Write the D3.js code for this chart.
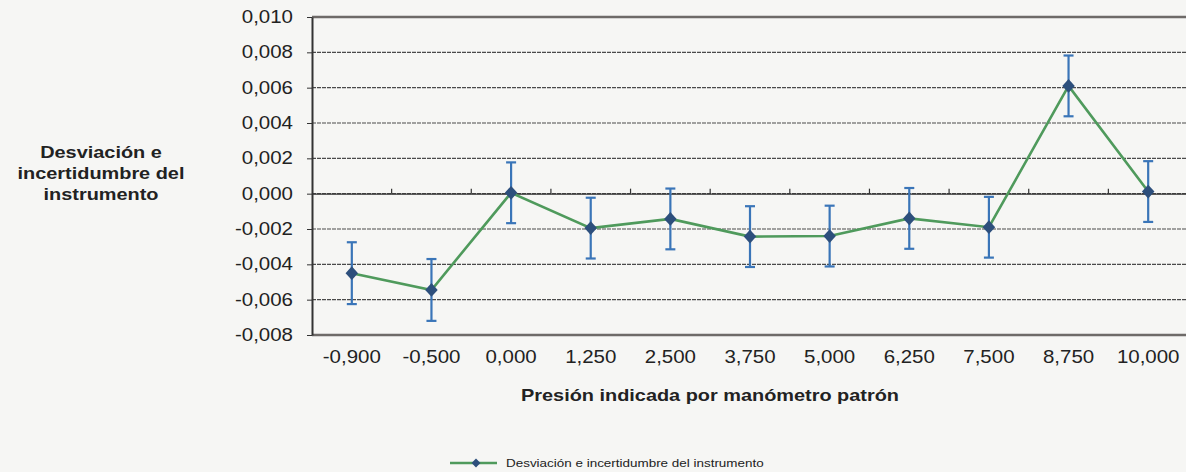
<!DOCTYPE html>
<html><head><meta charset="utf-8">
<script src="https://cdn.jsdelivr.net/npm/d3@7"></script>
<style>
html,body{margin:0;padding:0;background:#f6f6f4;}
svg{display:block;font-family:"Liberation Sans",Arial,sans-serif;}
</style></head><body>
<svg id="c" width="1186" height="472"></svg>
<script>
const categories = ["-0,900","-0,500","0,000","1,250","2,500","3,750","5,000","6,250","7,500","8,750","10,000"];
const deviation = [-0.0045,-0.00545,0.00005,-0.00195,-0.00143,-0.00243,-0.0024,-0.0014,-0.0019,0.0061,0.00012];
const uncertainty = [0.00175,0.00175,0.00172,0.00172,0.00172,0.00172,0.00172,0.00172,0.00172,0.00172,0.00172];
const yTicks = [0.010,0.008,0.006,0.004,0.002,0,-0.002,-0.004,-0.006,-0.008];
const seriesName = "Desviación e incertidumbre del instrumento";

const SX = 1.17; // horizontal stretch of the scanned text
const svg = d3.select("#c");
const L = 312, R = 1188, T = 17, B = 335;
const x = d3.scaleBand().domain(categories).range([L, R]);
const y = d3.scaleLinear().domain([-0.008, 0.010]).range([B, T]);
const fmt = v => d3.format(".3f")(v).replace("−","-").replace(".", ",");

function txt(g, px, py, s, opts) {
  const t = g.append("text")
    .attr("transform", `translate(${px},${py}) scale(${SX},1)`)
    .attr("font-size", opts.size).attr("fill", "#222")
    .attr("text-anchor", opts.anchor || "start")
    .text(s);
  if (opts.bold) t.attr("font-weight", "bold");
  if (opts.dy) t.attr("dy", opts.dy);
  return t;
}

// gridlines
svg.append("g").selectAll("line").data(yTicks.filter(v => v !== 0.010 && v !== -0.008)).join("line")
  .attr("x1", L).attr("x2", R).attr("y1", d => y(d)).attr("y2", d => y(d))
  .attr("stroke", "#4a4a4a").attr("stroke-width", 1.1).attr("stroke-dasharray", "4,1");

// top & bottom border
svg.append("line").attr("x1", L).attr("x2", R).attr("y1", y(0.010)).attr("y2", y(0.010)).attr("stroke", "#6e6a68").attr("stroke-width", 2.5);
svg.append("line").attr("x1", L).attr("x2", R).attr("y1", y(-0.008)).attr("y2", y(-0.008)).attr("stroke", "#6e6a68").attr("stroke-width", 2.5);

// y axis
const yAxis = svg.append("g").attr("transform", `translate(${L},0)`)
  .call(d3.axisLeft(y).tickValues(yTicks).tickFormat("").tickSize(5).tickSizeOuter(0));
yAxis.select(".domain").attr("stroke", "#333").attr("stroke-width", 2);
yAxis.selectAll(".tick line").attr("stroke", "#333");
const yl = svg.append("g");
yTicks.forEach(v => txt(yl, 293, y(v), fmt(v), {size: 17.5, anchor: "end", dy: "0.35em"}));

// x axis along zero line
const xAxis = svg.append("g").attr("transform", `translate(0,${y(0)})`)
  .call(d3.axisTop(x).tickSize(0).tickFormat(""));
xAxis.select(".domain").attr("stroke", "#333").attr("stroke-width", 1.3);
svg.append("g").selectAll("line").data(categories.slice(1)).join("line")
  .attr("x1", d => x(d)).attr("x2", d => x(d)).attr("y1", y(0)).attr("y2", y(0) - 5)
  .attr("stroke", "#333").attr("stroke-width", 1.2);

// x labels
const xl = svg.append("g");
categories.forEach(c => txt(xl, x(c) + x.bandwidth()/2, 363, c, {size: 17.5, anchor: "middle"}));

// titles
txt(svg, 710, 401, "Presión indicada por manómetro patrón", {size: 17, bold: true, anchor: "middle"});
["Desviación e","incertidumbre del","instrumento"].forEach((s, i) =>
  txt(svg, 101, 158 + i*21, s, {size: 17, bold: true, anchor: "middle"}));

// series line
const cx = i => x(categories[i]) + x.bandwidth()/2;
svg.append("path").datum(deviation)
  .attr("d", d3.line().x((d, i) => cx(i)).y(d => y(d)))
  .attr("fill", "none").attr("stroke", "#4f9a5c").attr("stroke-width", 2.6);

// error bars
const eb = svg.append("g").attr("stroke", "#3a75b8").attr("stroke-width", 2.2);
deviation.forEach((d, i) => {
  const t = y(d + uncertainty[i]), b = y(d - uncertainty[i]);
  eb.append("line").attr("x1", cx(i)).attr("x2", cx(i)).attr("y1", t).attr("y2", b);
  eb.append("line").attr("x1", cx(i) - 5).attr("x2", cx(i) + 5).attr("y1", t).attr("y2", t);
  eb.append("line").attr("x1", cx(i) - 5).attr("x2", cx(i) + 5).attr("y1", b).attr("y2", b);
});

// markers
const diamond = d3.symbol().type(d3.symbolDiamond2).size(100);
svg.append("g").selectAll("path").data(deviation).join("path")
  .attr("transform", (d, i) => `translate(${cx(i)},${y(d)}) scale(1,1.1)`)
  .attr("d", diamond).attr("fill", "#2d4f7c");

// legend
svg.append("line").attr("x1", 450).attr("x2", 497).attr("y1", 463).attr("y2", 463).attr("stroke", "#4f9a5c").attr("stroke-width", 2.6);
svg.append("path").attr("transform", "translate(476,463)").attr("d", d3.symbol().type(d3.symbolDiamond2).size(50)).attr("fill", "#2d4f7c");
txt(svg, 506, 467, seriesName, {size: 11.5});
</script>
</body></html>
